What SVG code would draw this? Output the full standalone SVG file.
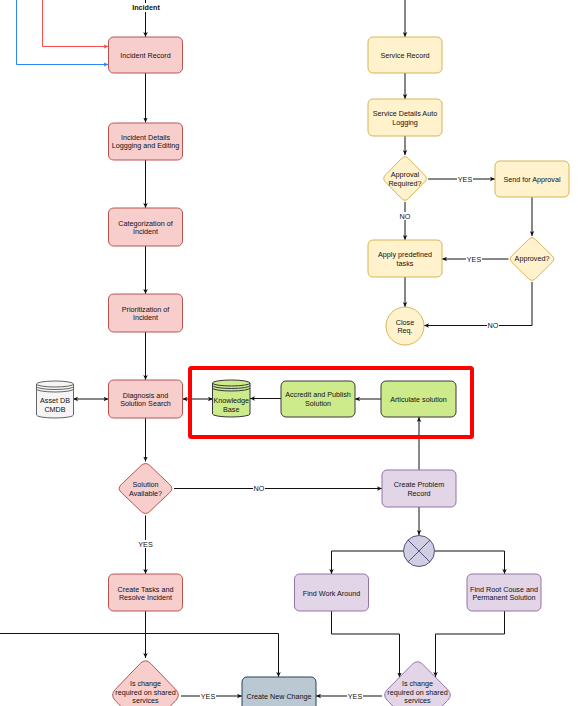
<svg xmlns="http://www.w3.org/2000/svg" width="578" height="706" viewBox="0 0 578 706">
<style>
text{font-family:"Liberation Sans",Arial,sans-serif;font-size:7.2px;fill:#111;text-anchor:middle}
.b{font-weight:bold}
.e{fill:none;stroke:#111;stroke-width:1}
.lbl{fill:#fff}
.pink{fill:#f8cecc;stroke:#b85450;stroke-width:1}
.yel{fill:#fff2cc;stroke:#d6b656;stroke-width:1}
.grn{fill:#cdeb8b;stroke:#36393d;stroke-width:1}
.pur{fill:#e1d5e7;stroke:#9673a6;stroke-width:1}
.blu{fill:#bac8d3;stroke:#23445d;stroke-width:1}
.gry{fill:#f5f5f5;stroke:#666;stroke-width:1}
.gate{fill:#d0cee2;stroke:#56517e;stroke-width:1}
</style>
<defs>
<marker id="a" viewBox="0 0 6 6" markerWidth="5" markerHeight="5" refX="6" refY="3" orient="auto-start-reverse" markerUnits="userSpaceOnUse"><path d="M0,0.3 L6,3 L0,5.7 L1.5,3 Z" fill="#111"/></marker>
<marker id="ar" viewBox="0 0 6 6" markerWidth="5" markerHeight="5" refX="6" refY="3" orient="auto" markerUnits="userSpaceOnUse"><path d="M0,0.3 L6,3 L0,5.7 L1.5,3 Z" fill="#ff4d4d"/></marker>
<marker id="ab" viewBox="0 0 6 6" markerWidth="5" markerHeight="5" refX="6" refY="3" orient="auto" markerUnits="userSpaceOnUse"><path d="M0,0.3 L6,3 L0,5.7 L1.5,3 Z" fill="#2b85ff"/></marker>
</defs>

<g id="connectors">
<path class="e" d="M145.5,0 V37" marker-end="url(#a)"/>
<path d="M42.5,0 V46.5 H108.5" fill="none" stroke="#ff4d4d" stroke-width="1" marker-end="url(#ar)"/>
<path d="M16.5,0 V64.5 H108.5" fill="none" stroke="#2b85ff" stroke-width="1" marker-end="url(#ab)"/>
<path class="e" d="M145.5,73 V122.5" marker-end="url(#a)"/>
<path class="e" d="M145.5,160 V208" marker-end="url(#a)"/>
<path class="e" d="M145.5,246 V294" marker-end="url(#a)"/>
<path class="e" d="M145.5,332 V380" marker-end="url(#a)"/>
<path class="e" d="M145.5,418 V461.5" marker-end="url(#a)"/>
<path class="e" d="M145.5,515.5 V574" marker-end="url(#a)"/>
<path class="e" d="M145.5,611 V658" marker-end="url(#a)"/>
<path class="e" d="M0,633.5 H278.5 V677" marker-end="url(#a)"/>
<path class="e" d="M181,696 H242" marker-end="url(#a)"/>
<path class="e" d="M382,696 H316" marker-end="url(#a)"/>
<path class="e" d="M174,488.5 H382" marker-end="url(#a)"/>
<path class="e" d="M419,470 V417" marker-end="url(#a)"/>
<path class="e" d="M381,399 H355" marker-end="url(#a)"/>
<path class="e" d="M281,398.5 H250" marker-end="url(#a)"/>
<path class="e" d="M213,399 H182.5" marker-start="url(#a)" marker-end="url(#a)"/>
<path class="e" d="M73,399 H108.5" marker-start="url(#a)" marker-end="url(#a)"/>
<path class="e" d="M419,507 V535" marker-end="url(#a)"/>
<path class="e" d="M403.5,551 H331.5 V574" marker-end="url(#a)"/>
<path class="e" d="M434.5,551 H504.5 V574" marker-end="url(#a)"/>
<path class="e" d="M331.5,611 V634 H399.5 V677.5" marker-end="url(#a)"/>
<path class="e" d="M504.5,611 V634 H435.5 V677" marker-end="url(#a)"/>
<path class="e" d="M405,0 V37" marker-end="url(#a)"/>
<path class="e" d="M405,73 V99" marker-end="url(#a)"/>
<path class="e" d="M405,136 V155" marker-end="url(#a)"/>
<path class="e" d="M428,179 H495" marker-end="url(#a)"/>
<path class="e" d="M405,202 V240" marker-end="url(#a)"/>
<path class="e" d="M532,197 V236" marker-end="url(#a)"/>
<path class="e" d="M508.5,259 H442" marker-end="url(#a)"/>
<path class="e" d="M532,282 V325.5 H424" marker-end="url(#a)"/>
<path class="e" d="M405,277 V307" marker-end="url(#a)"/>
<g id="edge-labels">
<rect class="lbl" x="130" y="3" width="32" height="9"/><text class="b" x="146" y="9.6">Incident</text>
<rect class="lbl" x="457" y="175" width="16" height="8"/><text x="465" y="181.6">YES</text>
<rect class="lbl" x="399" y="212" width="12" height="8"/><text x="405" y="218.6">NO</text>
<rect class="lbl" x="466" y="255" width="16" height="8"/><text x="474" y="261.6">YES</text>
<rect class="lbl" x="487" y="322" width="12" height="8"/><text x="493" y="328.3">NO</text>
<rect class="lbl" x="253" y="485" width="12" height="8"/><text x="259" y="491.1">NO</text>
<rect class="lbl" x="137.5" y="540" width="16" height="8"/><text x="145.5" y="546.6">YES</text>
<rect class="lbl" x="200" y="692" width="16" height="8"/><text x="208" y="698.6">YES</text>
<rect class="lbl" x="347" y="692" width="16" height="8"/><text x="355" y="698.6">YES</text>
</g>
</g>

<rect id="highlight" x="190" y="368" width="282" height="69" rx="1.5" fill="none" stroke="#ff0000" stroke-width="4"/>

<g id="incident-record"><rect class="pink" x="108.5" y="37" width="74" height="36" rx="5"/><text x="145.5" y="58.1">Incident Record</text></g>
<g id="incident-details"><rect class="pink" x="108.5" y="123" width="74" height="37" rx="5"/><text x="145.5" y="139.8">Incident Details</text><text x="145.5" y="148.4">Loggging and Editing</text></g>
<g id="categorization"><rect class="pink" x="108.5" y="208" width="74" height="38" rx="5"/><text x="145.5" y="225.5">Categorization of</text><text x="145.5" y="234.1">Incident</text></g>
<g id="prioritization"><rect class="pink" x="108.5" y="294" width="74" height="38" rx="5"/><text x="145.5" y="311.8">Prioritization of</text><text x="145.5" y="320.4">Incident</text></g>
<g id="diagnosis"><rect class="pink" x="108.5" y="380" width="74" height="38" rx="5"/><text x="145.5" y="397.5">Diagnosis and</text><text x="145.5" y="406.1">Solution Search</text></g>
<g id="solution-available"><path class="pink" d="M149.8,465.55 L169.7,484.45 Q174,488.5 169.7,492.55 L149.8,511.45 Q145.5,515.5 141.2,511.45 L121.3,492.55 Q117,488.5 121.3,484.45 L141.2,465.55 Q145.5,461.5 149.8,465.55 Z"/><text x="145.5" y="487">Solution</text><text x="145.5" y="495.6">Available?</text></g>
<g id="create-tasks"><rect class="pink" x="108.5" y="574" width="74" height="37" rx="5"/><text x="145.5" y="591.5">Create Tasks and</text><text x="145.5" y="600.1">Resolve Incident</text></g>
<g id="change-shared-incident"><path class="pink" d="M150.8,663.55 L175.7,689.45 Q181,695 175.7,700.55 L150.8,726.45 Q145.5,732 140.2,726.45 L115.3,700.55 Q110,695 115.3,689.45 L140.2,663.55 Q145.5,658 150.8,663.55 Z"/><text x="145.5" y="686">Is change</text><text x="145.5" y="694.6">required on shared</text><text x="145.5" y="703.2">services</text></g>
<g id="create-new-change"><rect class="blu" x="242" y="677" width="74" height="37" rx="5"/><text x="279" y="698.6">Create New Change</text></g>
<g id="change-shared-problem"><path class="pur" d="M422.8,664.4 L447.7,689.6 Q453,695 447.7,700.4 L422.8,725.6 Q417.5,731 412.2,725.6 L387.3,700.4 Q382,695 387.3,689.6 L412.2,664.4 Q417.5,659 422.8,664.4 Z"/><text x="417.5" y="686">Is change</text><text x="417.5" y="694.6">required on shared</text><text x="417.5" y="703.2">services</text></g>

<g id="service-record"><rect class="yel" x="368" y="37" width="74" height="36" rx="5"/><text x="405" y="58.3">Service Record</text></g>
<g id="service-details"><rect class="yel" x="368" y="99" width="74" height="37" rx="5"/><text x="405" y="116">Service Details Auto</text><text x="405" y="124.6">Logging</text></g>
<g id="approval-required"><path class="yel" d="M408.45,158.5 L424.55,175 Q428,178.5 424.55,182 L408.45,198.5 Q405,202 401.55,198.5 L385.45,182 Q382,178.5 385.45,175 L401.55,158.5 Q405,155 408.45,158.5 Z"/><text x="405" y="177.3">Approval</text><text x="405" y="185.9">Required?</text></g>
<g id="send-for-approval"><rect class="yel" x="495" y="161" width="74" height="36" rx="5"/><text x="532" y="181.6">Send for Approval</text></g>
<g id="approved"><path class="yel" d="M535.5,239.45 L552,255.55 Q555.5,259 552,262.45 L535.5,278.55 Q532,282 528.5,278.55 L512,262.45 Q508.5,259 512,255.55 L528.5,239.45 Q532,236 535.5,239.45 Z"/><text x="532" y="261.3">Approved?</text></g>
<g id="apply-tasks"><rect class="yel" x="368" y="240" width="74" height="37" rx="5"/><text x="405" y="257.2">Apply predefined</text><text x="405" y="265.8">tasks</text></g>
<g id="close-req"><circle class="yel" cx="405" cy="326" r="19"/><text x="405" y="324.6">Close</text><text x="405" y="333.4">Req.</text></g>

<g id="asset-db"><path class="gry" d="M36.5,384 A18.5,3 0 0 1 73.5,384 V415 A18.5,3 0 0 1 36.5,415 Z"/><path fill="none" stroke="#666" stroke-width="1" d="M36.5,384 A18.5,3 0 0 0 73.5,384 M36.5,386.5 A18.5,3 0 0 0 73.5,386.5 M36.5,389 A18.5,3 0 0 0 73.5,389"/><text x="55" y="403.3">Asset DB</text><text x="55" y="411.9">CMDB</text></g>
<g id="knowledge-base"><path class="grn" d="M212.5,383 A18.75,3 0 0 1 250,383 V414 A18.75,3 0 0 1 212.5,414 Z"/><path fill="none" stroke="#36393d" stroke-width="1" d="M212.5,383 A18.75,3 0 0 0 250,383 M212.5,385.5 A18.75,3 0 0 0 250,385.5 M212.5,388 A18.75,3 0 0 0 250,388"/><text x="231.25" y="403.3">Knowledge</text><text x="231.25" y="411.9">Base</text></g>
<g id="accredit"><rect class="grn" x="281" y="381" width="74" height="36" rx="5"/><text x="318" y="397.3">Accredit and Publish</text><text x="318" y="405.9">Solution</text></g>
<g id="articulate"><rect class="grn" x="381" y="381" width="75" height="36" rx="5"/><text x="418.5" y="401.6">Articulate solution</text></g>
<g id="create-problem"><rect class="pur" x="382" y="470" width="74" height="37" rx="5"/><text x="419" y="487">Create Problem</text><text x="419" y="495.6">Record</text></g>
<g id="gate"><circle class="gate" cx="419" cy="551" r="15.5"/><path d="M408,540 L430,562 M430,540 L408,562" stroke="#56517e" stroke-width="1"/></g>
<g id="find-work-around"><rect class="pur" x="294.5" y="574" width="74" height="37" rx="5"/><text x="331.5" y="595.6">Find Work Around</text></g>
<g id="find-root-cause"><rect class="pur" x="467" y="574" width="74" height="37" rx="5"/><text x="504" y="591.5">Find Root Couse and</text><text x="504" y="600.1">Permanent Solution</text></g>
</svg>
